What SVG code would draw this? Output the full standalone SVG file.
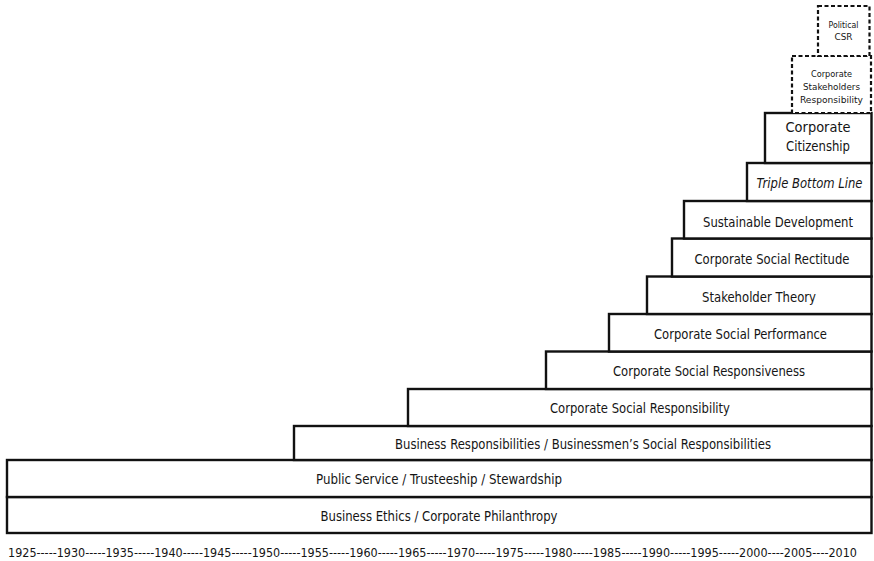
<svg xmlns="http://www.w3.org/2000/svg" width="874" height="561" viewBox="0 0 874 561">
<style>
.box{fill:#fff;stroke:#111;stroke-width:2.4}
.dash{fill:#fff;stroke:#111;stroke-width:2.2;stroke-dasharray:4 2.5}
text{font-family:"DejaVu Sans Condensed","DejaVu Sans","Liberation Sans",sans-serif;fill:#151515;text-anchor:middle}
.l{font-size:13.5px}
.s{font-size:9px}
.c{font-size:13.5px}
.y{font-size:12.5px;text-anchor:start}
</style>
<rect width="874" height="561" fill="#fff"/>
<g id="ethics">
<rect class="box" x="7" y="497" width="864.5" height="36"/>
<text class="l" x="439" y="520.5" textLength="237" lengthAdjust="spacingAndGlyphs">Business Ethics / Corporate Philanthropy</text>
</g>
<g id="public-service">
<rect class="box" x="7" y="460" width="864.5" height="37"/>
<text class="l" x="439" y="484" textLength="246" lengthAdjust="spacingAndGlyphs">Public Service / Trusteeship / Stewardship</text>
</g>
<g id="business-responsibilities">
<rect class="box" x="294" y="426" width="577.5" height="34"/>
<text class="l" x="583" y="448.5" textLength="376" lengthAdjust="spacingAndGlyphs">Business Responsibilities / Businessmen’s Social Responsibilities</text>
</g>
<g id="csr">
<rect class="box" x="408" y="389" width="463.5" height="37"/>
<text class="l" x="640" y="413" textLength="180" lengthAdjust="spacingAndGlyphs">Corporate Social Responsibility</text>
</g>
<g id="responsiveness">
<rect class="box" x="546" y="351.5" width="325.5" height="37.5"/>
<text class="l" x="709" y="376" textLength="192" lengthAdjust="spacingAndGlyphs">Corporate Social Responsiveness</text>
</g>
<g id="performance">
<rect class="box" x="609" y="314" width="262.5" height="37.5"/>
<text class="l" x="740.5" y="338.5" textLength="173" lengthAdjust="spacingAndGlyphs">Corporate Social Performance</text>
</g>
<g id="stakeholder-theory">
<rect class="box" x="647" y="276.5" width="224.5" height="37.5"/>
<text class="l" x="759" y="301.5" textLength="114" lengthAdjust="spacingAndGlyphs">Stakeholder Theory</text>
</g>
<g id="rectitude">
<rect class="box" x="672" y="238.5" width="199.5" height="38"/>
<text class="l" x="772" y="264" textLength="155" lengthAdjust="spacingAndGlyphs">Corporate Social Rectitude</text>
</g>
<g id="sustainable-development">
<rect class="box" x="684" y="201" width="187.5" height="37.5"/>
<text class="l" x="778" y="226.5" textLength="150" lengthAdjust="spacingAndGlyphs">Sustainable Development</text>
</g>
<g id="triple-bottom-line">
<rect class="box" x="747" y="163" width="124.5" height="38"/>
<text class="l" x="809.5" y="188" font-style="italic" textLength="106" lengthAdjust="spacingAndGlyphs">Triple Bottom Line</text>
</g>
<g id="corporate-citizenship">
<rect class="box" x="765" y="113" width="106.5" height="50"/>
<text class="c" x="818" y="132" textLength="65" lengthAdjust="spacingAndGlyphs">Corporate</text>
<text class="c" x="818" y="151" textLength="64" lengthAdjust="spacingAndGlyphs">Citizenship</text>
</g>
<g id="corporate-stakeholders-responsibility">
<rect class="dash" x="792" y="56" width="79" height="57"/>
<text class="s" x="831.5" y="77" textLength="41" lengthAdjust="spacingAndGlyphs">Corporate</text>
<text class="s" x="831.5" y="90" textLength="57" lengthAdjust="spacingAndGlyphs">Stakeholders</text>
<text class="s" x="831.5" y="102.5" textLength="63" lengthAdjust="spacingAndGlyphs">Responsibility</text>
</g>
<g id="political-csr">
<rect class="dash" x="818" y="6" width="51.5" height="50"/>
<text class="s" x="843.5" y="28" textLength="30" lengthAdjust="spacingAndGlyphs">Political</text>
<text class="s" x="843.5" y="40" textLength="18" lengthAdjust="spacingAndGlyphs">CSR</text>
</g>
<g id="connectors"></g>
<g id="timeline">
<text class="y" x="8" y="556.5" textLength="849" lengthAdjust="spacingAndGlyphs">1925-----1930-----1935-----1940-----1945-----1950-----1955-----1960-----1965-----1970-----1975-----1980-----1985-----1990-----1995-----2000----2005----2010</text>
</g>
</svg>
